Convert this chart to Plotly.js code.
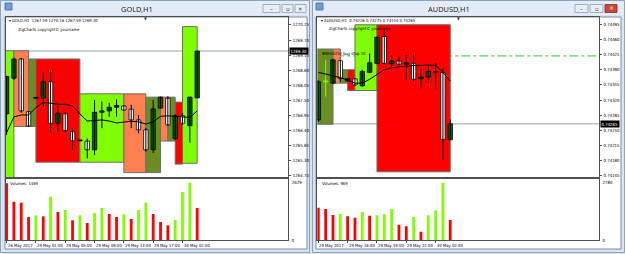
<!DOCTYPE html>
<html><head><meta charset="utf-8">
<script src="https://cdn.plot.ly/plotly-3.0.1.min.js"></script>
<style>html,body{margin:0;padding:0;background:#d5e1ef;}#chart{width:625px;height:254px;}</style>
</head><body><div id="chart"></div>
<script>
// ---------------- GOLD,H1 ----------------
const goldBars  = [0,1,2,3,4,5,6,7,8,9,10,11,12,13,14,15,16,17,18,19,20,21,22,23,24,25,26];
const goldOpen  = [1267.01,1268.31,1269.01,1267.09,1267.58,1267.58,1268.18,1266.67,1267.01,1266.36,1266.03,1266.02,1265.70,1267.07,1267.12,1267.25,1267.30,1267.18,1266.79,1266.43,1265.70,1267.22,1267.58,1266.11,1266.94,1266.58,1267.59];
const goldHigh  = [1268.40,1269.05,1269.05,1267.12,1267.62,1268.53,1268.61,1267.34,1267.08,1266.49,1266.05,1266.11,1267.52,1267.46,1267.41,1267.54,1267.33,1267.34,1266.97,1266.50,1267.52,1267.64,1267.65,1267.00,1267.05,1267.62,1269.30];
const goldLow   = [1266.24,1268.25,1267.05,1266.55,1267.55,1267.27,1266.33,1266.36,1266.33,1265.70,1266.01,1265.39,1265.51,1266.49,1266.90,1266.91,1267.13,1266.49,1266.30,1265.63,1265.58,1267.20,1266.58,1266.05,1266.60,1265.96,1267.59];
const goldClose = [1268.37,1269.01,1267.12,1266.57,1267.58,1268.18,1266.67,1267.03,1266.40,1266.03,1266.03,1265.70,1267.07,1267.12,1267.25,1267.32,1267.15,1266.79,1266.43,1265.70,1267.19,1267.62,1266.61,1266.94,1266.67,1267.62,1269.30];
const goldMA    = [1266.32,1266.90,1266.97,1266.97,1267.24,1267.42,1267.40,1267.36,1267.36,1267.30,1267.01,1266.75,1266.77,1266.79,1266.75,1266.68,1266.71,1266.74,1266.72,1266.64,1266.72,1266.92,1266.94,1266.92,1266.88,1266.88,1267.12];
const goldVol   = [2600,1758,1712,1055,1131,1085,1987,1284,1376,902,1131,780,1238,1467,1192,1055,1177,963,1376,1712,1192,825,673,917,2201,2629,1469];
const goldBoxFrom  = [-1,1,3,4,10,16,19,21,22,23,24];
const goldBoxTo    = [1,3,4,10,16,19,21,22,23,24,26];
const goldBoxLow   = [1264.00,1266.55,1266.55,1265.25,1265.25,1264.87,1264.87,1266.02,1266.02,1265.18,1265.21];
const goldBoxHigh  = [1269.31,1269.31,1269.01,1269.01,1267.74,1267.74,1267.62,1267.62,1267.62,1267.44,1270.19];
const goldBoxKind  = ['lime','salmon','olive','red','lime','salmon','olive','salmon','olive','red','lime'];
const goldPriceTicks = [1264.75,1265.30,1265.85,1266.40,1266.95,1267.50,1268.05,1268.60,1269.15,1269.70,1270.25];
const goldDateAt   = [0,4,8,12,16,20,24];
const goldDateText = ['26 May 2017','29 May 01:00','29 May 05:00','29 May 09:00','29 May 13:00','29 May 17:00','30 May 02:00'];
const goldLast = 1269.30, goldVolMax = 2629;

// ---------------- AUDUSD,H1 ----------------
const audBars  = [0,1,2,3,4,5,6,7,8,9,10,11,12,13,14,15,16,17,18];
const audOpen  = [0.74274,0.74362,0.74359,0.74411,0.74364,0.74369,0.74353,0.74384,0.74405,0.74467,0.74404,0.74410,0.74403,0.74405,0.74369,0.74373,0.74386,0.74384,0.74228];
const audHigh  = [0.74366,0.74413,0.74415,0.74413,0.74370,0.74370,0.74390,0.74428,0.74467,0.74486,0.74424,0.74420,0.74424,0.74426,0.74393,0.74401,0.74405,0.74393,0.74275];
const audLow   = [0.74270,0.74328,0.74357,0.74362,0.74362,0.74353,0.74351,0.74382,0.74403,0.74403,0.74397,0.74400,0.74366,0.74362,0.74347,0.74359,0.74347,0.74181,0.74228];
const audClose = [0.74362,0.74362,0.74413,0.74370,0.74369,0.74355,0.74386,0.74406,0.74465,0.74405,0.74410,0.74403,0.74406,0.74368,0.74373,0.74386,0.74384,0.74229,0.74265];
const audMA    = [0.74384,0.74380,0.74376,0.74372,0.74366,0.74359,0.74359,0.74368,0.74379,0.74390,0.74394,0.74397,0.74398,0.74400,0.74400,0.74401,0.74400,0.74384,0.74364];
const audVol   = [1568,1503,1212,1261,1148,1083,1358,1180,1196,1245,1503,744,663,1115,404,1196,1438,2780,969];
const audBoxFrom = [-1,2,3,4,5,8];
const audBoxTo   = [2,3,4,5,8,18];
const audBoxLow  = [0.74264,0.74359,0.74359,0.74342,0.74342,0.74154];
const audBoxHigh = [0.74438,0.74438,0.74390,0.74390,0.74494,0.74494];
const audBoxKind = ['olive','salmon','olive','red','lime','red'];
const audPriceTicks = [0.74145,0.74180,0.74215,0.74250,0.74285,0.74320,0.74355,0.74390,0.74425,0.74460,0.74495];
const audDateAt   = [0,4,8,12,16];
const audDateText = ['29 May 2017','29 May 16:00','29 May 19:00','29 May 22:00','30 May 02:00'];
const audLast = 0.74265, audVolMax = 2780, audBuyStop = 0.74422;

// ---------------- styling ----------------
const BOX = {lime:'#80ff00', salmon:'#ff7f50', olive:'#6b8e23', red:'#ff0000'};
const UP = '#006400', DN = '#ffffff';
const VUP = '#80ff00', VDN = '#ff0000';
const TXT = 'DejaVu Sans Condensed, DejaVu Sans, Liberation Sans, sans-serif';
const X = v => v/625, Y = v => 1 - v/254;

function candles(x,o,h,l,c,xa,ya,dojiColor,minH){
  const wx=[],wy=[],dx=[],dy=[];
  for(let i=0;i<x.length;i++){
    if(o[i]===c[i]){dx.push(x[i],x[i],null);dy.push(l[i],h[i],null);}
    else{wx.push(x[i],x[i],null);wy.push(l[i],h[i],null);}
  }
  const t=[];
  t.push({type:'scatter',mode:'lines',x:wx,y:wy,xaxis:xa,yaxis:ya,line:{color:'#000',width:1},hoverinfo:'skip',showlegend:false});
  if(dx.length) t.push({type:'scatter',mode:'lines',x:dx,y:dy,xaxis:xa,yaxis:ya,line:{color:dojiColor,width:1},hoverinfo:'skip',showlegend:false});
  const base=o.map((v,i)=>Math.min(v,c[i]));
  const hh=o.map((v,i)=>Math.max(Math.abs(c[i]-v),minH));
  const fill=o.map((v,i)=>c[i]>v?UP:(c[i]<v?DN:dojiColor));
  const edge=o.map((v,i)=>c[i]===v?dojiColor:'#000');
  t.push({type:'bar',x:x,y:hh,base:base,width:0.6,xaxis:xa,yaxis:ya,marker:{color:fill,line:{color:edge,width:0.8}},hoverinfo:'skip',showlegend:false});
  return t;
}
function volume(x,v,xa,ya){
  const col=v.map((q,i)=> i>0 && q>v[i-1] ? VUP : VDN);
  return {type:'bar',x:x,y:v,width:0.38,xaxis:xa,yaxis:ya,marker:{color:col,line:{width:0}},hoverinfo:'skip',showlegend:false};
}
function ma(x,m,xa,ya){
  return {type:'scatter',mode:'lines',x:x,y:m,xaxis:xa,yaxis:ya,line:{color:'#000',width:1},hoverinfo:'skip',showlegend:false};
}
function boxes(from,to,lo,hi,kind,xr,yr){
  return from.map((f,i)=>({type:'rect',xref:xr,yref:yr,x0:f,x1:to[i],y0:lo[i],y1:hi[i],fillcolor:BOX[kind[i]],line:{color:'#6e6e6e',width:1},layer:'below'}));
}

const data = [
  ...candles(goldBars,goldOpen,goldHigh,goldLow,goldClose,'x','y','#000',0.03),
  ma(goldBars,goldMA,'x','y'),
  volume(goldBars,goldVol,'x2','y2'),
  ...candles(audBars,audOpen,audHigh,audLow,audClose,'x3','y3','#80ff00',0.00002),
  ma(audBars,audMA,'x3','y3'),
  volume(audBars,audVol,'x4','y4')
];

const L = {l:6, r:288}, R = {l:317.3, r:598.7};
const priceTop = 17, priceBot = 177, volTop = 179, volBot = 240;
const axLine = {showline:true, mirror:true, linecolor:'#505050', linewidth:1, showgrid:false, zeroline:false, fixedrange:true};
const tickF = {family:TXT, size:4.3, color:'#000'};

const layout = {
  width:625, height:254, margin:{l:0,r:0,t:0,b:0,pad:0}, autosize:false,
  paper_bgcolor:'#d5e1ef', plot_bgcolor:'#ffffff', barmode:'overlay', showlegend:false,
  xaxis: {...axLine, domain:[X(L.l),X(L.r)], range:[-0.08,38.39], anchor:'y', showticklabels:false, ticks:''},
  yaxis: {...axLine, domain:[Y(priceBot),Y(priceTop)], range:[1264.71,1270.54], anchor:'x', side:'right', ticks:'outside', ticklen:2, tickcolor:'#505050', tickvals:goldPriceTicks, ticktext:goldPriceTicks.map(v=>v.toFixed(2)), tickfont:tickF, ticklabelstandoff:1},
  xaxis2:{...axLine, domain:[X(L.l),X(L.r)], range:[-0.08,38.39], anchor:'y2', showticklabels:false, ticks:'outside', ticklen:2, tickcolor:'#505050', tickvals:goldDateAt},
  yaxis2:{...axLine, domain:[Y(volBot),Y(volTop)], range:[0,goldVolMax*1.065], anchor:'x2', side:'right', ticks:'', tickvals:[0,goldVolMax], ticktext:['0',String(goldVolMax)], tickfont:tickF, ticklabelstandoff:2},
  xaxis3:{...axLine, domain:[X(R.l),X(R.r)], range:[-0.14,38.25], anchor:'y3', showticklabels:false, ticks:''},
  yaxis3:{...axLine, domain:[Y(priceBot),Y(priceTop)], range:[0.74142,0.74512], anchor:'x3', side:'right', ticks:'outside', ticklen:2, tickcolor:'#505050', tickvals:audPriceTicks, ticktext:audPriceTicks.map(v=>v.toFixed(5)), tickfont:tickF, ticklabelstandoff:1},
  xaxis4:{...axLine, domain:[X(R.l),X(R.r)], range:[-0.14,38.25], anchor:'y4', showticklabels:false, ticks:'outside', ticklen:2, tickcolor:'#505050', tickvals:audDateAt},
  yaxis4:{...axLine, domain:[Y(volBot),Y(volTop)], range:[0,audVolMax*1.065], anchor:'x4', side:'right', ticks:'', tickvals:[0,audVolMax], ticktext:['0',String(audVolMax)], tickfont:tickF, ticklabelstandoff:2},
  shapes:[], annotations:[]
};

// window chrome (paper coordinates)
function prect(x0,y0,x1,y1,fill,line,lw){return {type:'rect',xref:'paper',yref:'paper',x0:X(x0),x1:X(x1),y0:Y(y1),y1:Y(y0),fillcolor:fill,line:{color:line||'rgba(0,0,0,0)',width:lw||0},layer:'below'};}
const S = layout.shapes;
S.push(prect(0.5,0.5,309.5,252.5,'#d9e5f3','#8fa3bb',1));
S.push(prect(312.5,0.5,624.5,252.5,'#d9e5f3','#8fa3bb',1));
S.push(prect(1,1,309,15,'#e2ebf6'));
S.push(prect(313,1,624,15,'#e2ebf6'));
S.push(prect(5,17,307,249,'#ffffff','#7d8ea3',1));
S.push(prect(316,17,621,249,'#ffffff','#7d8ea3',1));
// title-bar icons and buttons
S.push(prect(5,3,12,10,'#6f9fd6','#3a6aa8',0.8));
S.push(prect(316,3,323,10,'#6f9fd6','#3a6aa8',0.8));
[[263,280],[282,293],[295,306]].forEach(b=>S.push(prect(b[0],4.5,b[1],12.5,'#e8eef6','#8c9db2',0.8)));
[[575,588],[590,603]].forEach(b=>S.push(prect(b[0],4.5,b[1],12.5,'#e8eef6','#8c9db2',0.8)));
S.push(prect(605,4.5,617,12.5,'#c8463c','#8e2a22',0.8));

// chart objects
S.push(...boxes(goldBoxFrom,goldBoxTo,goldBoxLow,goldBoxHigh,goldBoxKind,'x','y'));
S.push(...boxes(audBoxFrom,audBoxTo,audBoxLow,audBoxHigh,audBoxKind,'x3','y3'));
S.push({type:'line',xref:'x domain',x0:0,x1:1,yref:'y',y0:goldLast,y1:goldLast,line:{color:'#b8c2cc',width:1.5},layer:'below'});
S.push({type:'line',xref:'x3 domain',x0:0,x1:1,yref:'y3',y0:audLast,y1:audLast,line:{color:'#b8c2cc',width:1.5},layer:'below'});
S.push({type:'line',xref:'x3 domain',x0:0,x1:1,yref:'y3',y0:audBuyStop,y1:audBuyStop,line:{color:'#33cc33',width:1,dash:'dashdot'},layer:'below'});

const A = layout.annotations;
function ptxt(x,y,t,size,anchor,color,extra){A.push(Object.assign({xref:'paper',yref:'paper',x:X(x),y:Y(y),text:t,showarrow:false,xanchor:anchor||'left',yanchor:'middle',font:{family:TXT,size:size,color:color||'#000'}},extra||{}));}
ptxt(137,8.5,'GOLD,H1',7.4,'center','#1e1e1e',{font:{family:'Noto Sans, sans-serif',size:7.4,color:'#1e1e1e'}});
ptxt(449,8.5,'AUDUSD,H1',7.4,'center','#1e1e1e',{font:{family:'Noto Sans, sans-serif',size:7.4,color:'#1e1e1e'}});
ptxt(271.5,8.3,'–',6,'center','#333');ptxt(287.5,8.3,'▫',6,'center','#333');ptxt(300.5,8.3,'×',6,'center','#333');
ptxt(581.5,8.3,'–',6,'center','#333');ptxt(596.5,8.3,'▫',6,'center','#333');ptxt(611,8.3,'×',6.5,'center','#ffffff');
ptxt(7,20.5,'▾ GOLD,H1  1267.59 1270.16 1267.59 1269.30',4.2);
ptxt(16,29.3,'ZigCharts copyright© yourname',4.2);
ptxt(319,20.5,'▾ AUDUSD,H1  0.74228 0.74275 0.74154 0.74265',4.2);
ptxt(327,28.7,'ZigCharts copyright© yourname',4.2);
ptxt(320,53.3,'#8554252 buy stop 10',4.2);
ptxt(8,183.5,'Volumes: 1469',4.2);
ptxt(320,183.5,'Volumes: 969',4.2);
ptxt(145.7,18.6,'▼',4,'center','#333');
ptxt(458,18.6,'▼',4,'center','#333');
// current price labels
A.push({xref:'paper',yref:'y',x:X(289),y:goldLast,text:goldLast.toFixed(2),showarrow:false,xanchor:'left',yanchor:'middle',bgcolor:'#000',borderpad:0.5,font:{family:TXT,size:4.3,color:'#fff'}});
A.push({xref:'paper',yref:'y3',x:X(599.5),y:audLast,text:audLast.toFixed(5),showarrow:false,xanchor:'left',yanchor:'middle',bgcolor:'#000',borderpad:0.5,font:{family:TXT,size:4.3,color:'#fff'}});
// date labels
goldDateAt.forEach((b,i)=>A.push({xref:'x2',yref:'paper',x:b,y:Y(245),text:goldDateText[i],showarrow:false,xanchor:'left',yanchor:'middle',xshift:-1,font:{family:TXT,size:4.2,color:'#000'}}));
audDateAt.forEach((b,i)=>A.push({xref:'x4',yref:'paper',x:b,y:Y(245),text:audDateText[i],showarrow:false,xanchor:'left',yanchor:'middle',xshift:-1,font:{family:TXT,size:4.2,color:'#000'}}));

Plotly.newPlot('chart', data, layout, {staticPlot:true, displayModeBar:false});
</script></body></html>
